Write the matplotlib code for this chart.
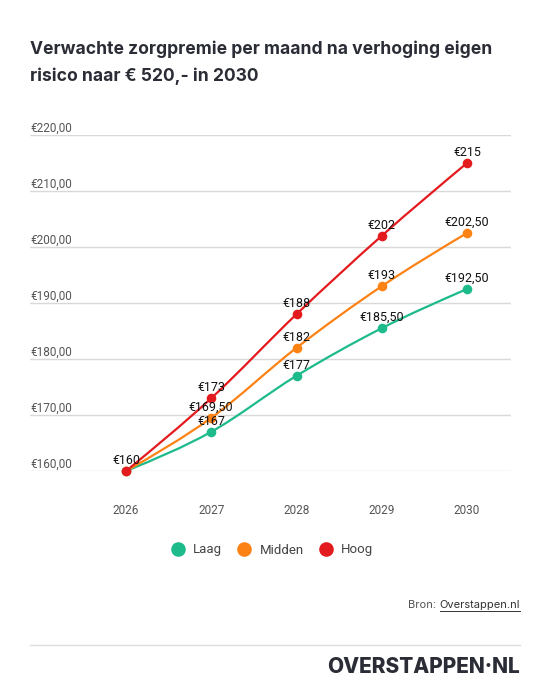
import numpy as np
import matplotlib.pyplot as plt
from matplotlib.path import Path
from matplotlib.patches import PathPatch
from matplotlib.lines import Line2D
import matplotlib.transforms as mtransforms

jaren = [2026, 2027, 2028, 2029, 2030]
laag = [160, 167, 177, 185.5, 192.5]
midden = [160, 169.5, 182, 193, 202.5]
hoog = [160, 173, 188, 202, 215]
reeksen = ["Laag", "Midden", "Hoog"]
kleuren = ["#1dba8c", "#fd8214", "#e31b1e"]
y_ticks = [160, 170, 180, 190, 200, 210, 220]

W, H = 550, 697
fig = plt.figure(figsize=(W / 100, H / 100), dpi=100)
fig.patch.set_facecolor("white")


def fx(px):
    return px / W


def fy(py):
    return 1 - py / H


def euro(v):
    s = f"{v:.2f}".replace(".", ",")
    if s.endswith(",00"):
        s = s[:-3]
    return "€" + s


def monotone_path(x, y):
    # monotone cubic (zoals d3 curveMonotoneX) als bezier pad
    x = np.asarray(x, float)
    y = np.asarray(y, float)
    h = np.diff(x)
    d = np.diff(y) / h
    m = np.zeros_like(y)
    for i in range(1, len(x) - 1):
        p = (d[i - 1] * h[i] + d[i] * h[i - 1]) / (h[i - 1] + h[i])
        m[i] = (np.sign(d[i - 1]) + np.sign(d[i])) * min(abs(d[i - 1]), abs(d[i]), 0.5 * abs(p))
    m[0] = (3 * d[0] - m[1]) / 2
    m[-1] = (3 * d[-1] - m[-2]) / 2
    verts = [(x[0], y[0])]
    codes = [Path.MOVETO]
    for i in range(len(x) - 1):
        dx = h[i] / 3
        verts += [(x[i] + dx, y[i] + m[i] * dx), (x[i + 1] - dx, y[i + 1] - m[i + 1] * dx), (x[i + 1], y[i + 1])]
        codes += [Path.CURVE4] * 3
    return Path(verts, codes)


# plot area
ax = fig.add_axes([fx(30), fy(471), fx(511) - fx(30), fy(135) - fy(471)])
ax.set_xlim(2024.874, 2030.516)
ax.set_ylim(160, 220)
for s in ax.spines.values():
    s.set_visible(False)
ax.set_yticks(y_ticks)
ax.set_yticklabels([])
ax.tick_params(axis="y", length=0)
ax.grid(axis="y", color="#d9d9d9", linewidth=1)
ax.set_axisbelow(True)
ax.set_xticks(jaren)
ax.set_xticklabels([str(j) for j in jaren], fontsize=8.5, color="#555555", family="Roboto")
ax.tick_params(axis="x", length=0, pad=24)

trans = mtransforms.blended_transform_factory(ax.transAxes, ax.transData)
for t in y_ticks:
    ax.text(0, t, euro(t) + ",00", transform=trans,
            ha="left", va="bottom", fontsize=8.5, color="#555555", family="Roboto")

for naam, data, kleur in zip(reeksen, [laag, midden, hoog], kleuren):
    ax.add_patch(PathPatch(monotone_path(jaren, data), facecolor="none", edgecolor=kleur,
                           linewidth=1.6, clip_on=False, zorder=3))
    ax.scatter(jaren, data, s=48, color=kleur, zorder=4, clip_on=False, linewidths=0)

gezien = set()
for naam, data, kleur in zip(reeksen, [laag, midden, hoog], kleuren):
    for j, v in zip(jaren, data):
        if (j, v) in gezien:
            continue
        gezien.add((j, v))
        ax.annotate(euro(v), (j, v), xytext=(0, 3), textcoords="offset points",
                    ha="center", va="bottom", fontsize=9, color="#111111", family="Roboto", zorder=5)

# title
fig.text(fx(30), fy(63), "Verwachte zorgpremie per maand na verhoging eigen\nrisico naar € 520,- in 2030",
         ha="left", va="center", fontsize=12.6, fontweight="bold", color="#2b2d36",
         family="Inter", linespacing=1.72)

# legend
handles = [Line2D([], [], marker="o", linestyle="none", markersize=10.5, color=k,
                  markeredgewidth=0) for k in kleuren]
leg = fig.legend(handles, reeksen, loc="center", bbox_to_anchor=(fx(271), fy(550)), ncol=3,
                 frameon=False, handletextpad=0.45, columnspacing=1.0, handlelength=1.4,
                 prop={"family": "Roboto", "size": 9.5})
for t in leg.get_texts():
    t.set_color("#444444")

# bron
src = fig.text(fx(520), fy(605), "Overstappen.nl", ha="right", va="center", fontsize=8,
               color="#333333", family="Inter")
fig.canvas.draw()
bb = src.get_window_extent()
fig.text(fx(520) - bb.width / W, fy(605), "Bron: ", ha="right", va="center", fontsize=8,
         color="#555555", family="Inter")
fig.add_artist(Line2D([bb.x0 / W, bb.x1 / W], [bb.y0 / H - 0.002] * 2, color="#333333",
                      linewidth=0.7))

# scheidingslijn en logo
fig.add_artist(Line2D([fx(30), fx(520)], [fy(645)] * 2, color="#dddddd", linewidth=1))
fig.text(fx(520), fy(667), "OVERSTAPPEN·NL", ha="right", va="center", fontsize=15,
         fontweight="heavy", color="#2b2d36", family="Inter")

fig.savefig("out.png", dpi=100, facecolor="white")
